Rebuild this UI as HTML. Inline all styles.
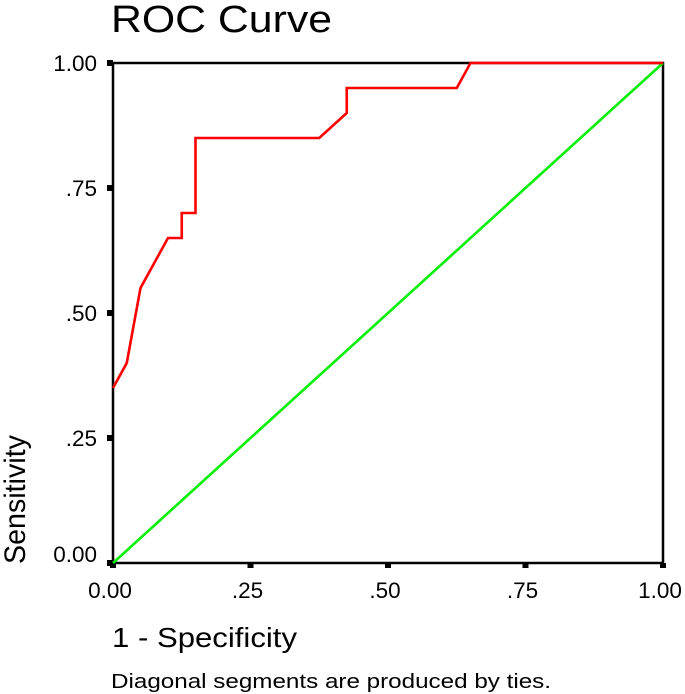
<!DOCTYPE html>
<html><head><meta charset="utf-8"><style>
html,body{margin:0;padding:0;background:#fff;}
svg{display:block;font-family:"Liberation Sans",Arial,sans-serif;}
</style></head><body>
<svg id="chart" width="685" height="694" viewBox="0 0 685 694" xmlns="http://www.w3.org/2000/svg">
<text x="111" y="32" font-size="38" textLength="221" lengthAdjust="spacingAndGlyphs" fill="#000">ROC Curve</text>
<g id="axes"></g>
<g id="series"></g>
<text x="112" y="647" font-size="28" textLength="185" lengthAdjust="spacingAndGlyphs" fill="#000">1 - Specificity</text>
<text transform="translate(25,564) rotate(-90)" font-size="30" textLength="129" lengthAdjust="spacingAndGlyphs" fill="#000">Sensitivity</text>
<text x="111" y="688" font-size="20" textLength="440" lengthAdjust="spacingAndGlyphs" fill="#000">Diagonal segments are produced by ties.</text>
</svg>
<script>
const xTicks=[0,0.25,0.5,0.75,1];
const xTickLabels=["0.00",".25",".50",".75","1.00"];
const yTicks=[0,0.25,0.5,0.75,1];
const yTickLabels=["0.00",".25",".50",".75","1.00"];
const rocFpr=[0,0.025,0.05,0.10,0.125,0.125,0.15,0.15,0.375,0.425,0.425,0.625,0.65,1];
const rocTpr=[0.35,0.40,0.55,0.65,0.65,0.70,0.70,0.85,0.85,0.90,0.95,0.95,1,1];
const refX=[0,1];
const refY=[0,1];
const L=113,R=663,T=63,B=563;
const sx=v=>L+v*(R-L), sy=v=>B-v*(B-T);
const NS="http://www.w3.org/2000/svg";
const axes=document.getElementById('axes'), series=document.getElementById('series');
function mk(tag,attrs,parent){const e=document.createElementNS(NS,tag);for(const k in attrs)e.setAttribute(k,attrs[k]);parent.appendChild(e);return e;}
const frame=mk('rect',{x:L,y:T,width:R-L,height:B-T,fill:'none',stroke:'#000','stroke-width':2.5},axes);


xTicks.forEach((v,i)=>{
  const t=mk('rect',{x:sx(v)-3,y:B,width:6,height:5,fill:'#000'},axes);
  
  
  const lb=mk('text',{x:sx(v)-3,y:B+35,'font-size':22.5,'text-anchor':'middle',fill:'#000'},axes);
  lb.textContent=xTickLabels[i];
  
  
});
yTicks.forEach((v,i)=>{
  const t=mk('rect',{x:L-6,y:sy(v)-3,width:6,height:6,fill:'#000'},axes);
  
  
  const lb=mk('text',{x:L-16,y:sy(v)+(v===0?-1:8),'font-size':22.5,'text-anchor':'end',fill:'#000'},axes);
  lb.textContent=yTickLabels[i];
  
  
});
const ref=mk('polyline',{points:refX.map((x,i)=>sx(x)+','+sy(refY[i])).join(' '),fill:'none',stroke:'#00ee00','stroke-width':2.6},series);


const roc=mk('polyline',{points:rocFpr.map((x,i)=>sx(x)+','+sy(rocTpr[i])).join(' '),fill:'none',stroke:'#ff0000','stroke-width':2.6},series);


</script>
</body></html>
